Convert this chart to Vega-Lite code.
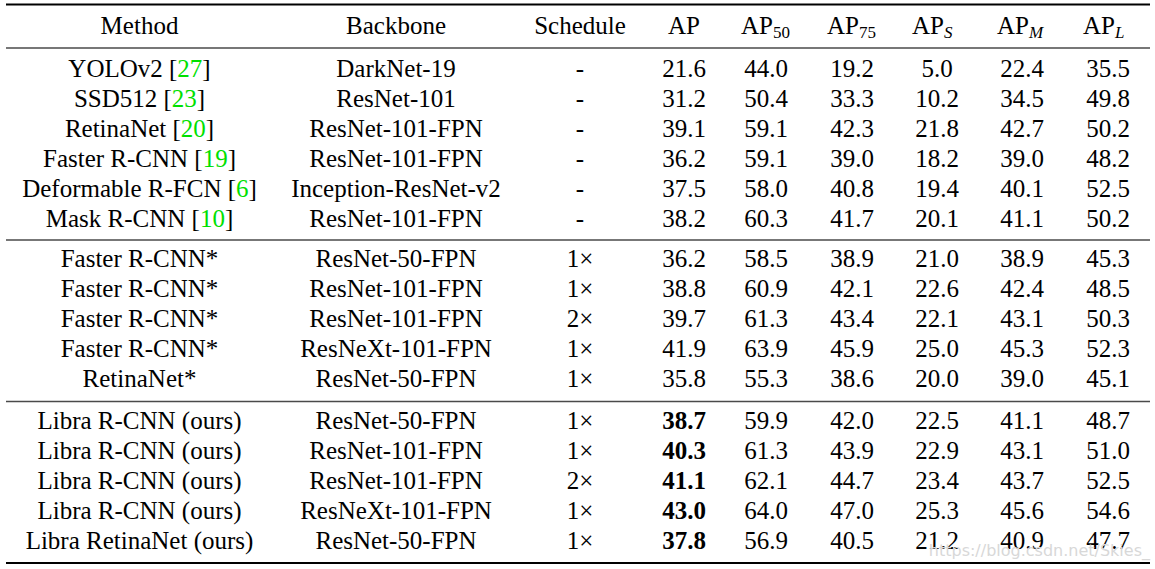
{
"$schema": "https://vega.github.io/schema/vega-lite/v6.json",
"width": 1155, "height": 569, "autosize": "none", "padding": 0,
"background": "white",
"config": {"view": {"stroke": null}, "text": {"font": "Liberation Serif", "fontSize": 25, "baseline": "alphabetic", "color": "black"}},
"datasets": {
"cells": [
{"r":0,"c":0,"t":"Method"},{"r":0,"c":1,"t":"Backbone"},{"r":0,"c":2,"t":"Schedule"},{"r":0,"c":3,"t":"AP"},
{"r":0,"c":4,"t":"AP","sub":"50"},{"r":0,"c":5,"t":"AP","sub":"75"},{"r":0,"c":6,"t":"AP","sub":"S"},{"r":0,"c":7,"t":"AP","sub":"M"},{"r":0,"c":8,"t":"AP","sub":"L"},
{"r":1,"c":0,"t":"YOLOv2","ref":"27"},{"r":1,"c":1,"t":"DarkNet-19"},{"r":1,"c":2,"t":"-"},{"r":1,"c":3,"t":"21.6"},{"r":1,"c":4,"t":"44.0"},{"r":1,"c":5,"t":"19.2"},{"r":1,"c":6,"t":"5.0"},{"r":1,"c":7,"t":"22.4"},{"r":1,"c":8,"t":"35.5"},
{"r":2,"c":0,"t":"SSD512","ref":"23"},{"r":2,"c":1,"t":"ResNet-101"},{"r":2,"c":2,"t":"-"},{"r":2,"c":3,"t":"31.2"},{"r":2,"c":4,"t":"50.4"},{"r":2,"c":5,"t":"33.3"},{"r":2,"c":6,"t":"10.2"},{"r":2,"c":7,"t":"34.5"},{"r":2,"c":8,"t":"49.8"},
{"r":3,"c":0,"t":"RetinaNet","ref":"20"},{"r":3,"c":1,"t":"ResNet-101-FPN"},{"r":3,"c":2,"t":"-"},{"r":3,"c":3,"t":"39.1"},{"r":3,"c":4,"t":"59.1"},{"r":3,"c":5,"t":"42.3"},{"r":3,"c":6,"t":"21.8"},{"r":3,"c":7,"t":"42.7"},{"r":3,"c":8,"t":"50.2"},
{"r":4,"c":0,"t":"Faster R-CNN","ref":"19"},{"r":4,"c":1,"t":"ResNet-101-FPN"},{"r":4,"c":2,"t":"-"},{"r":4,"c":3,"t":"36.2"},{"r":4,"c":4,"t":"59.1"},{"r":4,"c":5,"t":"39.0"},{"r":4,"c":6,"t":"18.2"},{"r":4,"c":7,"t":"39.0"},{"r":4,"c":8,"t":"48.2"},
{"r":5,"c":0,"t":"Deformable R-FCN","ref":"6"},{"r":5,"c":1,"t":"Inception-ResNet-v2"},{"r":5,"c":2,"t":"-"},{"r":5,"c":3,"t":"37.5"},{"r":5,"c":4,"t":"58.0"},{"r":5,"c":5,"t":"40.8"},{"r":5,"c":6,"t":"19.4"},{"r":5,"c":7,"t":"40.1"},{"r":5,"c":8,"t":"52.5"},
{"r":6,"c":0,"t":"Mask R-CNN","ref":"10"},{"r":6,"c":1,"t":"ResNet-101-FPN"},{"r":6,"c":2,"t":"-"},{"r":6,"c":3,"t":"38.2"},{"r":6,"c":4,"t":"60.3"},{"r":6,"c":5,"t":"41.7"},{"r":6,"c":6,"t":"20.1"},{"r":6,"c":7,"t":"41.1"},{"r":6,"c":8,"t":"50.2"},
{"r":7,"c":0,"t":"Faster R-CNN*"},{"r":7,"c":1,"t":"ResNet-50-FPN"},{"r":7,"c":2,"t":"1×"},{"r":7,"c":3,"t":"36.2"},{"r":7,"c":4,"t":"58.5"},{"r":7,"c":5,"t":"38.9"},{"r":7,"c":6,"t":"21.0"},{"r":7,"c":7,"t":"38.9"},{"r":7,"c":8,"t":"45.3"},
{"r":8,"c":0,"t":"Faster R-CNN*"},{"r":8,"c":1,"t":"ResNet-101-FPN"},{"r":8,"c":2,"t":"1×"},{"r":8,"c":3,"t":"38.8"},{"r":8,"c":4,"t":"60.9"},{"r":8,"c":5,"t":"42.1"},{"r":8,"c":6,"t":"22.6"},{"r":8,"c":7,"t":"42.4"},{"r":8,"c":8,"t":"48.5"},
{"r":9,"c":0,"t":"Faster R-CNN*"},{"r":9,"c":1,"t":"ResNet-101-FPN"},{"r":9,"c":2,"t":"2×"},{"r":9,"c":3,"t":"39.7"},{"r":9,"c":4,"t":"61.3"},{"r":9,"c":5,"t":"43.4"},{"r":9,"c":6,"t":"22.1"},{"r":9,"c":7,"t":"43.1"},{"r":9,"c":8,"t":"50.3"},
{"r":10,"c":0,"t":"Faster R-CNN*"},{"r":10,"c":1,"t":"ResNeXt-101-FPN"},{"r":10,"c":2,"t":"1×"},{"r":10,"c":3,"t":"41.9"},{"r":10,"c":4,"t":"63.9"},{"r":10,"c":5,"t":"45.9"},{"r":10,"c":6,"t":"25.0"},{"r":10,"c":7,"t":"45.3"},{"r":10,"c":8,"t":"52.3"},
{"r":11,"c":0,"t":"RetinaNet*"},{"r":11,"c":1,"t":"ResNet-50-FPN"},{"r":11,"c":2,"t":"1×"},{"r":11,"c":3,"t":"35.8"},{"r":11,"c":4,"t":"55.3"},{"r":11,"c":5,"t":"38.6"},{"r":11,"c":6,"t":"20.0"},{"r":11,"c":7,"t":"39.0"},{"r":11,"c":8,"t":"45.1"},
{"r":12,"c":0,"t":"Libra R-CNN (ours)"},{"r":12,"c":1,"t":"ResNet-50-FPN"},{"r":12,"c":2,"t":"1×"},{"r":12,"c":3,"t":"38.7"},{"r":12,"c":4,"t":"59.9"},{"r":12,"c":5,"t":"42.0"},{"r":12,"c":6,"t":"22.5"},{"r":12,"c":7,"t":"41.1"},{"r":12,"c":8,"t":"48.7"},
{"r":13,"c":0,"t":"Libra R-CNN (ours)"},{"r":13,"c":1,"t":"ResNet-101-FPN"},{"r":13,"c":2,"t":"1×"},{"r":13,"c":3,"t":"40.3"},{"r":13,"c":4,"t":"61.3"},{"r":13,"c":5,"t":"43.9"},{"r":13,"c":6,"t":"22.9"},{"r":13,"c":7,"t":"43.1"},{"r":13,"c":8,"t":"51.0"},
{"r":14,"c":0,"t":"Libra R-CNN (ours)"},{"r":14,"c":1,"t":"ResNet-101-FPN"},{"r":14,"c":2,"t":"2×"},{"r":14,"c":3,"t":"41.1"},{"r":14,"c":4,"t":"62.1"},{"r":14,"c":5,"t":"44.7"},{"r":14,"c":6,"t":"23.4"},{"r":14,"c":7,"t":"43.7"},{"r":14,"c":8,"t":"52.5"},
{"r":15,"c":0,"t":"Libra R-CNN (ours)"},{"r":15,"c":1,"t":"ResNeXt-101-FPN"},{"r":15,"c":2,"t":"1×"},{"r":15,"c":3,"t":"43.0"},{"r":15,"c":4,"t":"64.0"},{"r":15,"c":5,"t":"47.0"},{"r":15,"c":6,"t":"25.3"},{"r":15,"c":7,"t":"45.6"},{"r":15,"c":8,"t":"54.6"},
{"r":16,"c":0,"t":"Libra RetinaNet (ours)"},{"r":16,"c":1,"t":"ResNet-50-FPN"},{"r":16,"c":2,"t":"1×"},{"r":16,"c":3,"t":"37.8"},{"r":16,"c":4,"t":"56.9"},{"r":16,"c":5,"t":"40.5"},{"r":16,"c":6,"t":"21.2"},{"r":16,"c":7,"t":"40.9"},{"r":16,"c":8,"t":"47.7"}
],
"lines": [{"r":-0.5,"c":-0.5,"c2":8.5},{"r":0.5,"c":-0.5,"c2":8.5},{"r":6.5,"c":-0.5,"c2":8.5},{"r":11.5,"c":-0.5,"c2":8.5},{"r":16.5,"c":-0.5,"c2":8.5}],
"marks": [{"r":16,"c":8.5,"t":"https://blog.csdn.net/Skies_"}]
},
"encoding": {
"x": {"field":"c","type":"quantitative","axis":null,"scale":{"domain":[-0.5,0,1,2,3,4,5,6,7,8,8.5],"range":[6,139.5,396,580,684,766,852,937,1022,1108,1150],"zero":false,"nice":false}},
"y": {"field":"r","type":"quantitative","axis":null,"scale":{"domain":[-0.5,0,0.5,1,6,6.5,7,11,11.5,12,16,16.5],"range":[4.5,34,48,77,226.5,240,267,387,401.5,429,548.5,563],"zero":false,"nice":false}}
},
"layer": [
{"data":{"name":"lines"},"transform":[{"filter":"datum.r == -0.5 || datum.r == 16.5"}],
 "mark":{"type":"rule","color":"black","strokeWidth":2},
 "encoding":{"x2":{"field":"c2"}}},
{"data":{"name":"lines"},"transform":[{"filter":"datum.r != -0.5 && datum.r != 16.5"}],
 "mark":{"type":"rule","color":"#4a4a4a","strokeWidth":1.3},
 "encoding":{"x2":{"field":"c2"}}},
{"data":{"name":"cells"},"transform":[{"filter":"!datum.ref && !datum.sub && !(datum.r >= 12 && datum.c == 3)"}],
 "mark":{"type":"text","align":"center"},"encoding":{"text":{"field":"t"}}},
{"data":{"name":"cells"},"transform":[{"filter":"datum.r >= 12 && datum.c == 3"}],
 "mark":{"type":"text","align":"center","fontWeight":"bold"},"encoding":{"text":{"field":"t"}}},
{"data":{"name":"cells"},"transform":[{"filter":"datum.ref"},{"calculate":"datum.t + ' [' + datum.ref + ']'","as":"full"}],
 "mark":{"type":"text","align":"center","color":"#00e000"},"encoding":{"text":{"field":"full"}}},
{"data":{"name":"cells"},"transform":[{"filter":"datum.ref"},{"calculate":"datum.t + ' [' + (length(datum.ref) == 1 ? '\u2007' : '\u2007\u2007') + ']'","as":"masked"}],
 "mark":{"type":"text","align":"center","fill":"white","stroke":"white","strokeWidth":1.6},"encoding":{"text":{"field":"masked"}}},
{"data":{"name":"cells"},"transform":[{"filter":"datum.ref"},{"calculate":"datum.t + ' [' + (length(datum.ref) == 1 ? '\u2007' : '\u2007\u2007') + ']'","as":"masked"}],
 "mark":{"type":"text","align":"center","color":"black"},"encoding":{"text":{"field":"masked"}}},
{"data":{"name":"cells"},"transform":[{"filter":"datum.sub"}],
 "mark":{"type":"text","align":"right","dx":7},"encoding":{"text":{"field":"t"}}},
{"data":{"name":"cells"},"transform":[{"filter":"datum.sub && datum.c <= 5"}],
 "mark":{"type":"text","align":"left","dx":7,"dy":4,"fontSize":17},"encoding":{"text":{"field":"sub"}}},
{"data":{"name":"cells"},"transform":[{"filter":"datum.sub && datum.c >= 6"}],
 "mark":{"type":"text","align":"left","dx":7,"dy":4,"fontSize":17,"fontStyle":"italic"},"encoding":{"text":{"field":"sub"}}},
{"data":{"name":"marks"},
 "mark":{"type":"text","align":"right","baseline":"middle","dy":2,"font":"DejaVu Sans","fontSize":16,"color":"#d8d8d8"},"encoding":{"text":{"field":"t"}}}
]
}
